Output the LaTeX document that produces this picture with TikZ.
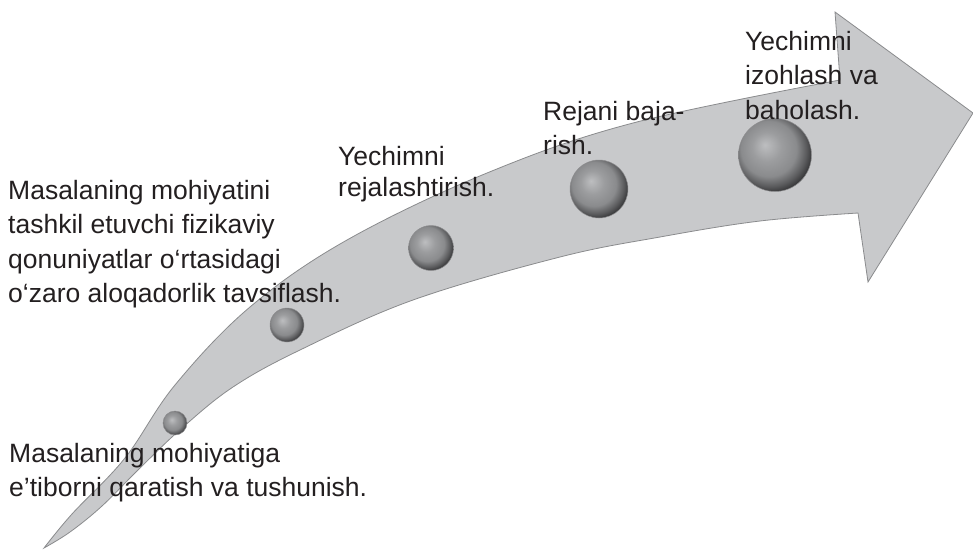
\documentclass[tikz,border=0pt]{standalone}
\usepackage{fontspec}
\setmainfont{Liberation Sans}
\definecolor{arrowfill}{HTML}{C8C9CB}
\definecolor{arrowline}{HTML}{8A8B8D}
\definecolor{beadhi}{HTML}{BDBEC0}
\definecolor{beadmid}{HTML}{8A8B8D}
\definecolor{beaddark}{HTML}{2A2A2C}
\definecolor{beadrim}{HTML}{8E8E90}
\definecolor{textcol}{HTML}{231F20}
\pgfdeclareradialshading{bead}{\pgfpoint{-7bp}{7bp}}{color(0bp)=(beadhi); color(10bp)=(beadmid!65!beadhi); color(19bp)=(beadmid); color(25bp)=(beadmid!50!beaddark); color(30bp)=(beaddark); color(50bp)=(beaddark)}
\tikzset{
  beadball/.style={circle,inner sep=0pt,shading=bead,draw=beadrim,line width=0.5pt},
  steptext/.style={anchor=north west,inner sep=0pt,align=left,text=textcol,
    font=\fontsize{26.5}{34.5}\selectfont}
}
\begin{document}
\begin{tikzpicture}[x=1pt,y=-1pt]
 \useasboundingbox (0,0) rectangle (973,549);
 \filldraw[fill=arrowfill,draw=arrowline,line width=0.8pt]
   plot[smooth,tension=0.6] coordinates {(44,548) (72,514) (125,458) (175,385) (250,307) (347,240) (487,173) (633,123) (840,80)}
   -- (835,12) -- (973,113) -- (868,282) -- (858,213)
   -- plot[smooth,tension=0.6] coordinates {(858,213) (760,221) (660,237) (560,257) (413,300) (300,350) (233,387) (182,428) (140,468) (102,506) (70,532) (44,548)}
   -- cycle;
 \foreach \x/\y/\d/\n in {175/423/24/b1, 287/325/34/b2, 431/248/45/b3, 599/189/58/b4, 775/155/73/b5}
   \node[beadball,minimum size=\d pt] (\n) at (\x,\y) {};
 \node[steptext] (tushun) at (9,443) {Masalaning mohiyatiga\\e’tiborni qaratish va tushunish.};
 \node[steptext] (qonun) at (8,180) {Masalaning mohiyatini\\tashkil etuvchi fizikaviy\\qonuniyatlar o‘rtasidagi\\o‘zaro aloqadorlik tavsiflash.};
 \node[steptext,font=\fontsize{26.5}{31}\selectfont] (reja) at (338,146) {Yechimni\\rejalashtirish.};
 \node[steptext] (bajar) at (543,101) {Rejani baja-\\rish.};
 \node[steptext] (baho) at (745,31) {Yechimni\\izohlash va\\baholash.};
\end{tikzpicture}
\end{document}
